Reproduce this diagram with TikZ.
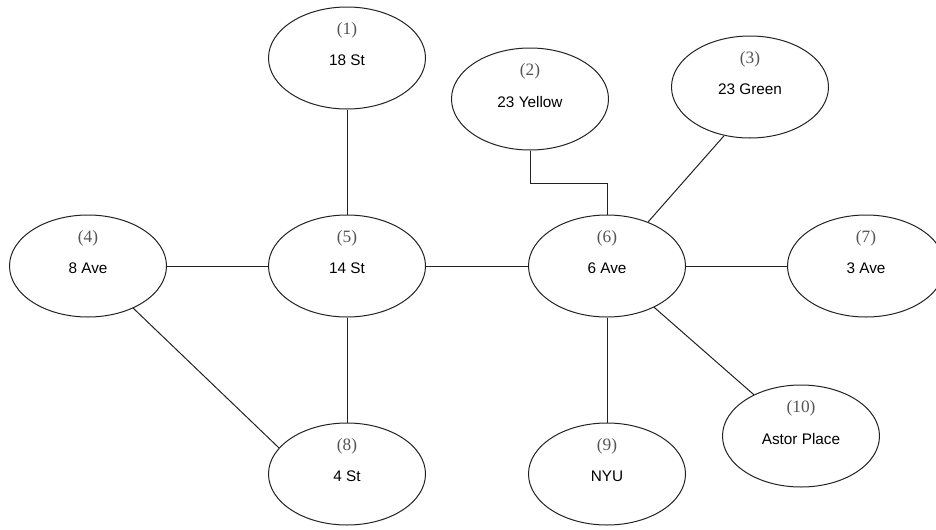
\documentclass[tikz,border=0pt]{standalone}
\usepackage{fontspec}
\setmainfont{Liberation Sans}
\newfontfamily\numserif{Liberation Serif}
\usetikzlibrary{shapes.geometric}
\definecolor{numgray}{HTML}{555555}
\definecolor{linec}{HTML}{222222}
\tikzset{
  station/.style={ellipse, draw=linec, line width=0.75pt, minimum width=117.75pt, minimum height=76.5pt, inner sep=0pt},
  conn/.style={draw=linec, line width=0.75pt},
  numlab/.style={text=numgray, font=\numserif\fontsize{13}{15}\selectfont, yshift=21pt},
  namelab/.style={text=black, font=\fontsize{11.5}{13}\selectfont, yshift=-2pt}
}
\begin{document}
\begin{tikzpicture}[x=0.75pt, y=-0.75pt]
\useasboundingbox (0,0) rectangle (936,529);
\begin{scope}
\clip (0,0) rectangle (936,529);
\node[station, label={[numlab]center:(1)}, label={[namelab]center:18 St}] (n1) at (347,58) {};
\node[station, label={[numlab]center:(2)}, label={[namelab]center:23 Yellow}] (n2) at (530,99) {};
\node[station, label={[numlab]center:(3)}, label={[namelab]center:23 Green}] (n3) at (750,87) {};
\node[station, label={[numlab]center:(4)}, label={[namelab]center:8 Ave}] (n4) at (88,266) {};
\node[station, label={[numlab]center:(5)}, label={[namelab]center:14 St}] (n5) at (347,266) {};
\node[station, label={[numlab]center:(6)}, label={[namelab]center:6 Ave}] (n6) at (607,266) {};
\node[station, label={[numlab]center:(7)}, label={[namelab]center:3 Ave}] (n7) at (866,266) {};
\node[station, label={[numlab]center:(8)}, label={[namelab]center:4 St}] (n8) at (347,474) {};
\node[station, label={[numlab]center:(9)}, label={[namelab]center:NYU}] (n9) at (607,474) {};
\node[station, label={[numlab]center:(10)}, label={[namelab]center:Astor Place}] (n10) at (801,436) {};
\end{scope}
\draw[conn] (n1.south) -- (n5.north);
\draw[conn] (n2.south) -- ++(0,33) -| (n6.north);
\draw[conn] (n3.242) -- (n6.47);
\draw[conn] (n4.east) -- (n5.west);
\draw[conn] (n5.east) -- (n6.west);
\draw[conn] (n6.east) -- (n7.west);
\draw[conn] (n5.south) -- (n8.north);
\draw[conn] (n6.south) -- (n9.north);
\draw[conn] (n6) -- (n10);
\draw[conn] (n4.317) -- (n8.159);
\end{tikzpicture}
\end{document}
